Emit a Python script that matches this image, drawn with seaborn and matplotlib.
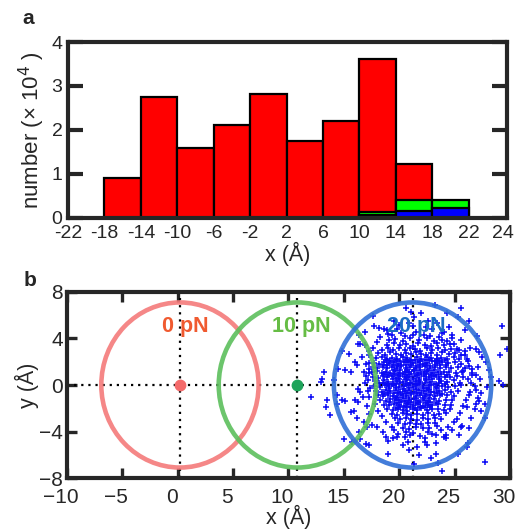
import numpy as np
import pandas as pd
import seaborn as sns
import matplotlib
matplotlib.use("Agg")
import matplotlib.pyplot as plt
import matplotlib.transforms as mtransforms
from matplotlib.patches import Circle

# ---------------- panel a: position histograms (counts in units of 10^4) ----------------
bin_edges = [-18, -14, -10, -6, -2, 2, 6, 10, 14, 18, 22]
counts_0pN = [0.90, 2.75, 1.58, 2.12, 2.81, 1.74, 2.20, 3.62, 1.23, 0.00]
counts_10pN = [0.00, 0.00, 0.00, 0.00, 0.00, 0.00, 0.00, 0.13, 0.41, 0.41]
counts_20pN = [0.00, 0.00, 0.00, 0.00, 0.00, 0.00, 0.00, 0.06, 0.15, 0.23]
hist_xticks = [-22, -18, -14, -10, -6, -2, 2, 6, 10, 14, 18, 22, 25.8]
hist_xticklabels = ["-22", "-18", "-14", "-10", "-6", "-2", "2", "6", "10", "14", "18", "22", "24"]

# ---------------- panel b: trap centres and bead positions ----------------
force_labels = ["0 pN", "10 pN", "20 pN"]
trap_x = [0.2, 10.8, 21.2]
trap_radius = 7.1
label_x = [0.7, 11.2, 21.5]
label_y = 5.0

# scattered bead positions at 20 pN (outer points)
outer_x = [17.6, 17.75, 18.2, 18.6, 18.9, 16.4, 16.9, 16.3, 16.5, 16.9, 14.8, 15.5, 17.25, 16.0, 16.2,
           15.1, 15.6, 14.5, 13.2, 13.0, 12.9, 14.1, 16.8, 17.25,
           23.2, 25.6, 25.3, 26.3, 29.3, 25.9, 27.0, 24.8, 25.6, 29.7, 29.1, 26.9, 27.5, 26.2, 27.1,
           28.1, 27.8, 25.8, 26.6, 27.3, 29.0,
           12.0, 13.45, 13.36, 13.75, 14.4, 14.8, 15.1, 14.4, 16.0, 16.3, 15.6, 15.9, 16.2, 16.8, 17.1,
           17.5, 16.4, 15.0, 15.7, 16.5, 17.0, 17.25, 18.0, 18.5, 18.8, 19.4, 19.8, 20.3, 19.0, 16.3, 16.5,
           24.2, 24.2, 23.3, 23.3, 25.3, 26.1, 26.2, 25.4, 26.3, 25.7, 26.5, 27.7, 26.8, 27.4, 27.7, 27.1,
           27.2, 27.7, 23.9, 23.5, 20.9, 21.6, 29.4,
           21.3, 21.1, 22.0, 21.2, 22.6, 23.4, 24.5, 23.9, 24.8, 20.2, 19.5, 20.6, 22.8, 19.3, 24.3, 20.0,
           21.0, 22.3, 21.8, 22.5, 20.6, 23.0, 24.8, 19.5, 22.9, 21.3,
           26.5, 26.9, 26.3, 27.9, 26.6, 28.3, 26.1, 25.9, 26.4,
           17.0, 17.2, 16.7, 17.1, 17.3, 16.9, 17.3, 16.6]
outer_y = [5.95, 5.06, 4.9, 4.85, 4.7, 4.3, 4.6, 3.56, 3.5, 3.4, 2.9, 2.67, 2.9, 1.98, 1.7,
           1.27, 1.12, 1.4, 1.12, 0.49, 0.3, 0.4, 1.12, 1.9,
           6.9, 6.6, 5.86, 5.5, 5.09, 4.7, 4.2, 4.3, 3.85, 3.1, 2.56, 3.1, 2.4, 2.1, 1.55,
           1.27, 1.98, 1.18, 0.84, 0.49, 0.32,
           -1.06, -1.29, -1.87, -2.59, -0.86, -1.29, -1.35, -1.64, -1.29, -1.44, -2.3, -2.24, -2.87, -3.16, -3.6,
           -3.45, -4.0, -4.68, -4.9, -4.66, -5.1, -5.2, -3.6, -4.0, -4.45, -4.6, -4.45, -5.17, -5.9, -0.35, -0.63,
           -4.3, -4.6, -5.0, -5.9, -5.9, -5.3, -5.0, -4.3, -3.7, -3.5, -2.87, -2.87, -2.07, -2.24, -1.67, -1.15,
           -1.4, -6.66, -7.4, -6.75, -5.6, -5.3, 0.0,
           5.86, 6.3, 6.2, 5.1, 5.5, 5.3, 5.0, 4.5, 4.0, 4.5, 5.5, 6.6, 4.2, 4.3, 6.2, 5.2,
           -4.3, -4.6, -6.0, -5.2, -4.0, -4.2, -3.9, -3.9, -6.3, -6.8,
           0.2, -0.4, -0.9, -0.2, 1.4, 0.7, -1.9, 2.6, 3.2,
           0.8, -0.5, -1.0, -1.8, -2.5, 0.2, 1.4, 2.4]

# bead positions in the fringe between the dense core and the scattered points
fringe_x = [18.3, 19.0, 19.8, 20.5, 21.5, 22.2, 23.0, 23.6, 24.3, 24.9, 25.4, 25.9, 18.0, 17.6, 17.3,
            20.9, 22.4, 24.0, 19.1, 21.2,
            26.1, 26.3, 26.6, 26.2, 26.8, 26.4, 26.0, 25.8, 25.5, 25.2, 26.9, 27.4, 26.9, 27.2,
            24.9, 24.4, 23.8, 23.3, 22.6, 21.9, 21.2, 20.5, 19.9, 19.3, 18.8, 18.4, 18.1, 17.8,
            22.3, 20.8, 24.0, 25.6, 19.0, 23.4,
            17.3, 17.2, 17.0, 17.4, 17.3]
fringe_y = [4.1, 4.4, 4.8, 4.2, 4.6, 4.3, 4.8, 4.1, 3.8, 3.5, 3.0, 2.9, 3.7, 3.2, 2.6,
            5.3, 5.0, 4.6, 3.9, 4.3,
            2.2, 1.6, 1.0, 0.5, -0.1, -0.6, -1.3, -1.8, -2.4, -2.9, 0.9, -0.7, -1.6, 2.8,
            -3.2, -3.6, -3.9, -4.3, -4.0, -4.4, -4.1, -4.5, -4.2, -3.6, -3.2, -2.7, -2.2, -1.6,
            -4.9, -4.9, -4.5, -3.6, -4.8, -3.5,
            -1.0, 0.4, 1.8, -0.3, 1.0]

# dense core of bead positions at 20 pN, listed row by row
core_rows = [
    ([19.6, 20.3, 21.0, 21.8, 22.5, 23.1, 23.9],
     [3.95, 3.80, 4.05, 3.85, 4.00, 3.75, 3.90]),
    ([18.9, 19.5, 20.1, 20.6, 21.2, 21.7, 22.3, 22.9, 23.4, 24.0, 24.6],
     [3.45, 3.60, 3.40, 3.55, 3.35, 3.62, 3.48, 3.38, 3.58, 3.44, 3.52]),
    ([18.4, 19.0, 19.4, 20.0, 20.5, 21.0, 21.4, 21.9, 22.5, 23.0, 23.5, 24.1, 24.7, 25.2],
     [3.05, 3.20, 2.98, 3.15, 3.02, 3.22, 3.08, 2.96, 3.18, 3.04, 3.14, 2.99, 3.12, 3.06]),
    ([18.1, 18.7, 19.2, 19.7, 20.2, 20.6, 21.1, 21.5, 22.0, 22.4, 22.9, 23.4, 23.9, 24.5, 25.0, 25.6],
     [2.72, 2.60, 2.80, 2.66, 2.58, 2.78, 2.64, 2.82, 2.70, 2.56, 2.76, 2.62, 2.84, 2.68, 2.74, 2.59]),
    ([17.9, 18.4, 18.9, 19.3, 19.8, 20.3, 20.7, 21.1, 21.6, 22.0, 22.5, 22.9, 23.4, 23.8, 24.3, 24.9, 25.4],
     [2.28, 2.40, 2.20, 2.35, 2.24, 2.42, 2.30, 2.18, 2.38, 2.26, 2.44, 2.32, 2.22, 2.36, 2.27, 2.41, 2.25]),
    ([18.8, 19.2, 19.7, 20.1, 20.6, 21.0, 21.4, 21.9, 22.3, 22.7, 23.2, 23.6, 24.1],
     [2.14, 2.08, 2.12, 2.05, 2.15, 2.09, 2.13, 2.07, 2.11, 2.16, 2.04, 2.10, 2.14]),
    ([17.7, 18.2, 18.6, 19.1, 19.5, 19.9, 20.4, 20.8, 21.2, 21.7, 22.1, 22.5, 23.0, 23.4, 23.9, 24.4, 25.0, 25.6],
     [1.92, 1.84, 2.00, 1.88, 1.96, 1.80, 1.94, 2.02, 1.86, 1.98, 1.82, 1.90, 2.04, 1.85, 1.95, 1.87, 1.99, 1.83]),
    ([18.5, 18.9, 19.4, 19.8, 20.2, 20.6, 21.1, 21.5, 21.9, 22.4, 22.8, 23.2, 23.7, 24.2],
     [1.74, 1.68, 1.72, 1.65, 1.75, 1.69, 1.73, 1.67, 1.71, 1.76, 1.64, 1.70, 1.74, 1.68]),
    ([17.6, 18.0, 18.5, 18.9, 19.3, 19.8, 20.2, 20.6, 21.0, 21.5, 21.9, 22.3, 22.8, 23.2, 23.7, 24.2, 24.7, 25.3, 25.9],
     [1.52, 1.44, 1.58, 1.47, 1.55, 1.42, 1.60, 1.49, 1.56, 1.45, 1.53, 1.61, 1.43, 1.57, 1.48, 1.54, 1.46, 1.59, 1.50]),
    ([19.5, 20.1, 20.7, 21.3, 21.9, 22.5, 23.1],
     [1.30, 1.27, 1.33, 1.29, 1.32, 1.28, 1.31]),
    ([17.5, 18.0, 18.4, 18.8, 19.2, 19.6, 20.0, 20.5, 20.9, 21.3, 21.7, 22.2, 22.6, 23.0, 23.5, 24.0, 24.5, 25.1, 25.7],
     [1.10, 1.18, 1.04, 1.14, 1.07, 1.20, 1.02, 1.15, 1.08, 1.19, 1.05, 1.12, 1.17, 1.03, 1.16, 1.09, 1.13, 1.06, 1.11]),
    ([18.6, 19.0, 19.5, 19.9, 20.3, 20.7, 21.1, 21.6, 22.0, 22.4, 22.9, 23.3, 23.8, 24.3],
     [0.94, 0.88, 0.92, 0.85, 0.95, 0.89, 0.93, 0.87, 0.91, 0.96, 0.84, 0.90, 0.94, 0.88]),
    ([17.6, 18.1, 18.5, 18.9, 19.3, 19.7, 20.1, 20.5, 20.9, 21.4, 21.8, 22.2, 22.7, 23.1, 23.6, 24.1, 24.6, 25.2, 25.8],
     [0.72, 0.64, 0.78, 0.68, 0.75, 0.62, 0.80, 0.70, 0.66, 0.77, 0.63, 0.74, 0.69, 0.79, 0.65, 0.73, 0.67, 0.76, 0.71]),
    ([19.4, 20.0, 20.6, 21.2, 21.8, 22.4, 23.0, 23.6],
     [0.52, 0.48, 0.55, 0.50, 0.47, 0.54, 0.49, 0.51]),
    ([17.8, 18.2, 18.6, 19.0, 19.4, 19.8, 20.3, 20.7, 21.1, 21.5, 21.9, 22.4, 22.8, 23.3, 23.8, 24.3, 24.9, 25.5],
     [0.35, 0.18, 0.42, 0.25, 0.12, 0.38, 0.29, 0.45, 0.16, 0.33, 0.22, 0.40, 0.27, 0.10, 0.36, 0.24, 0.44, 0.19]),
    ([18.5, 18.9, 19.3, 19.7, 20.1, 20.6, 21.0, 21.4, 21.8, 22.3, 22.7, 23.1, 23.6, 24.1],
     [0.14, 0.08, 0.12, 0.05, 0.15, 0.09, 0.13, 0.07, 0.11, 0.16, 0.04, 0.10, 0.14, 0.08]),
    ([17.7, 18.3, 18.7, 19.1, 19.5, 20.0, 20.4, 20.8, 21.2, 21.6, 22.1, 22.5, 22.9, 23.4, 23.9, 24.4, 25.0, 25.6],
     [-0.08, -0.18, 0.02, -0.12, -0.03, -0.20, -0.06, 0.04, -0.15, -0.01, -0.10, -0.22, 0.00, -0.14, -0.05, -0.17, -0.09, 0.03]),
    ([19.1, 19.7, 20.3, 20.9, 21.5, 22.1, 22.7, 23.3],
     [-0.30, -0.27, -0.33, -0.28, -0.31, -0.26, -0.32, -0.29]),
    ([17.9, 18.4, 18.8, 19.2, 19.7, 20.1, 20.5, 20.9, 21.3, 21.8, 22.2, 22.6, 23.1, 23.6, 24.1, 24.7, 25.3],
     [-0.48, -0.58, -0.42, -0.55, -0.45, -0.60, -0.50, -0.40, -0.57, -0.46, -0.53, -0.43, -0.59, -0.49, -0.44, -0.56, -0.51]),
    ([18.6, 19.0, 19.5, 19.9, 20.3, 20.7, 21.1, 21.6, 22.0, 22.4, 22.9, 23.4, 23.9],
     [-0.74, -0.68, -0.72, -0.65, -0.75, -0.69, -0.73, -0.67, -0.71, -0.76, -0.64, -0.70, -0.74]),
    ([18.1, 18.5, 19.0, 19.4, 19.8, 20.2, 20.6, 21.1, 21.5, 21.9, 22.3, 22.8, 23.2, 23.7, 24.3, 24.9],
     [-0.88, -0.96, -0.82, -0.92, -1.00, -0.85, -0.94, -0.80, -0.98, -0.87, -0.93, -0.83, -0.97, -0.89, -0.84, -0.95]),
    ([19.7, 20.3, 20.9, 21.5, 22.1, 22.7],
     [-1.10, -1.13, -1.08, -1.12, -1.09, -1.11]),
    ([18.3, 18.8, 19.2, 19.6, 20.0, 20.5, 20.9, 21.3, 21.7, 22.2, 22.6, 23.1, 23.6, 24.2, 24.8],
     [-1.28, -1.36, -1.22, -1.33, -1.25, -1.40, -1.30, -1.20, -1.38, -1.27, -1.34, -1.23, -1.37, -1.29, -1.32]),
    ([19.2, 19.8, 20.2, 20.7, 21.1, 21.5, 21.9, 22.4, 22.8, 23.3],
     [-1.46, -1.54, -1.48, -1.52, -1.45, -1.55, -1.49, -1.53, -1.47, -1.51]),
    ([18.6, 19.1, 19.5, 20.0, 20.4, 20.8, 21.2, 21.7, 22.1, 22.6, 23.0, 23.5, 24.1, 24.7],
     [-1.68, -1.76, -1.64, -1.72, -1.80, -1.66, -1.74, -1.62, -1.78, -1.69, -1.75, -1.65, -1.73, -1.70]),
    ([19.7, 20.1, 20.6, 21.0, 21.4, 21.9, 22.3, 22.8],
     [-1.94, -1.88, -1.92, -1.85, -1.95, -1.89, -1.93, -1.87]),
    ([18.9, 19.4, 19.9, 20.3, 20.7, 21.2, 21.6, 22.0, 22.5, 23.0, 23.5, 24.0, 24.6],
     [-2.08, -2.16, -2.04, -2.12, -2.20, -2.06, -2.14, -2.02, -2.18, -2.10, -2.05, -2.15, -2.09]),
    ([19.3, 19.8, 20.3, 20.7, 21.1, 21.6, 22.1, 22.6, 23.1, 23.6, 24.2],
     [-2.48, -2.56, -2.44, -2.52, -2.60, -2.46, -2.54, -2.42, -2.58, -2.50, -2.45]),
    ([19.6, 20.1, 20.6, 21.1, 21.6, 22.1, 22.6, 23.2, 23.8],
     [-2.88, -2.96, -2.84, -2.92, -3.00, -2.86, -2.94, -2.82, -2.90]),
    ([19.9, 20.5, 21.0, 21.5, 22.0, 22.6, 23.2],
     [-3.28, -3.36, -3.24, -3.32, -3.38, -3.26, -3.30]),
    ([20.3, 20.9, 21.5, 22.1, 22.7],
     [-3.68, -3.76, -3.64, -3.72, -3.70]),
]

assert len(outer_x) == len(outer_y)
assert len(fringe_x) == len(fringe_y)
for xs, ys in core_rows:
    assert len(xs) == len(ys)

bead_x = list(outer_x) + list(fringe_x) + [v for xs, _ in core_rows for v in xs]
bead_y = list(outer_y) + list(fringe_y) + [v for _, ys in core_rows for v in ys]
beads = pd.DataFrame({"x": bead_x, "y": bead_y})

# ---------------- style ----------------
sns.set_style("ticks")
plt.rcParams["font.family"] = ["Liberation Sans", "DejaVu Sans"]
plt.rcParams["axes.linewidth"] = 3

fig = plt.figure(figsize=(5.2, 5.31), dpi=100)

# ---------------- panel a ----------------
ax1 = fig.add_axes([0.1308, 0.5895, 0.8442, 0.3314])
centers = [(bin_edges[i] + bin_edges[i + 1]) / 2 for i in range(len(bin_edges) - 1)]
for counts, color in [(counts_0pN, "#ff0000"), (counts_10pN, "#00ff00"), (counts_20pN, "#0000ff")]:
    df = pd.DataFrame({"x": centers, "w": counts})
    df = df[df["w"] > 0]
    sns.histplot(data=df, x="x", weights="w", bins=bin_edges, ax=ax1,
                 color=color, alpha=1, edgecolor="black", linewidth=1.6)
ax1.set_xlim(-22, 26.2)
ax1.set_ylim(0, 4)
ax1.set_xticks(hist_xticks)
ax1.set_xticklabels(hist_xticklabels)
ax1.set_yticks([0, 1, 2, 3, 4])
ax1.tick_params(axis="x", length=0, pad=5, labelsize=14)
ax1.tick_params(axis="y", direction="in", length=11, width=3, right=True, pad=4, labelsize=14)
ax1.set_xlabel("x (Å)", fontsize=15.5, labelpad=0)
ax1.set_ylabel(r"number (× 10$^{4}$ )", fontsize=16, labelpad=3)
for s in ax1.spines.values():
    s.set_visible(True)
    s.set_linewidth(3)

# ---------------- panel b ----------------
ax2 = fig.add_axes([0.1288, 0.0998, 0.852, 0.3503])
ax2.set_xlim(-10, 30)
ax2.set_ylim(-8, 8)

dot_style = dict(color="black", linestyle=(0, (1, 2.2)), linewidth=1.6, zorder=1)
ax2.axhline(0, **dot_style)
for xc in trap_x:
    ax2.axvline(xc, **dot_style)

sns.scatterplot(data=beads, x="x", y="y", marker="+", s=18, color="#0a0af5",
                linewidth=1.1, ax=ax2, zorder=2, legend=False)

ring_colors = ["#f47a7a", "#5cbf5c", "#2f6fd6"]
for xc, rc in zip(trap_x, ring_colors):
    ax2.add_patch(Circle((xc, 0), trap_radius, fill=False, edgecolor=rc,
                         linewidth=3.3, alpha=0.9, zorder=3))

ax2.plot([trap_x[0]], [0], "o", color="#f46a6a", markersize=7.5, zorder=4)
ax2.plot([trap_x[1]], [0], "o", color="#1ea35a", markersize=7.5, zorder=4)

text_colors = ["#f05a30", "#66bd45", "#1a6cc4"]
for lx, txt, tc in zip(label_x, force_labels, text_colors):
    ax2.text(lx, label_y, txt, color=tc, fontsize=15.5, fontweight="bold",
             ha="center", va="center", zorder=5)

ax2.set_xticks([-10, -5, 0, 5, 10, 15, 20, 25, 30])
ax2.set_yticks([-8, -4, 0, 4, 8])
ax2.tick_params(axis="both", direction="in", length=7, width=2.4,
                top=True, right=True, labelsize=15)
ax2.tick_params(axis="x", pad=7)
ax2.tick_params(axis="y", pad=3)
# tick labels of the lower panel sit slightly left of their ticks
shift = mtransforms.ScaledTranslation(-6 / 100, 0, fig.dpi_scale_trans)
for lab in ax2.get_xticklabels():
    lab.set_transform(lab.get_transform() + shift)
ax2.set_xlabel("x (Å)", fontsize=15.5, labelpad=-1)
ax2.set_ylabel("y (Å)", fontsize=15.5, labelpad=0)
for s in ax2.spines.values():
    s.set_visible(True)
    s.set_linewidth(3)

fig.text(28 / 520, 1 - 18 / 531, "a", fontsize=15, fontweight="bold", ha="center", va="center")
fig.text(30 / 520, 1 - 280 / 531, "b", fontsize=15, fontweight="bold", ha="center", va="center")

fig.savefig("out.png", dpi=100)
